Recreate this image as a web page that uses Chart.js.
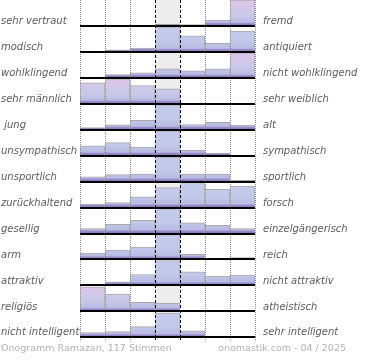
<!DOCTYPE html>
<html lang="de">
<head>
<meta charset="UTF-8">
<title>Onogramm Ramazan</title>
<style>
  html, body { margin: 0; padding: 0; background: #fff; }
</style>
</head>
<body>
<canvas id="myChart" width="370" height="360"></canvas>
<script src="https://cdn.jsdelivr.net/npm/chart.js@4.4.1/dist/chart.umd.min.js"></script>
<script>
// labels on both sides of each row
const leftLabels = ['sehr vertraut', 'modisch', 'wohlklingend', 'sehr männlich', ' jung',
  'unsympathisch', 'unsportlich', 'zurückhaltend', 'gesellig', 'arm', 'attraktiv',
  'religiös', 'nicht intelligent'];
const rightLabels = ['fremd', 'antiquiert', 'nicht wohlklingend', 'sehr weiblich', 'alt',
  'sympathisch', 'sportlich', 'forsch', 'einzelgängerisch', 'reich', 'nicht attraktiv',
  'atheistisch', 'sehr intelligent'];

// bar heights per row, in % of row height, 7 steps from left to right
const vertraut     = [0, 2, 0, 7, 5, 23, 100];
const modisch      = [0, 8, 15, 97, 62, 33, 80];
const wohlklingend = [0, 13, 19, 35, 27, 35, 96];
const maennlich    = [81, 96, 70, 58, 0, 0, 0];
const jung         = [8, 19, 36, 96, 20, 29, 18];
const unsympath    = [38, 50, 33, 96, 22, 10, 0];
const unsportlich  = [18, 27, 29, 96, 29, 29, 5];
const zurueck      = [13, 19, 41, 77, 96, 70, 83];
const gesellig     = [19, 35, 51, 96, 41, 32, 19];
const arm          = [25, 36, 48, 96, 20, 0, 7];
const attraktiv    = [0, 14, 42, 96, 52, 36, 40];
const religioes    = [95, 67, 35, 31, 0, 0, 0];
const intelligent  = [18, 22, 41, 93, 25, 5, 0];

const rows = [vertraut, modisch, wohlklingend, maennlich, jung, unsympath, unsportlich,
  zurueck, gesellig, arm, attraktiv, religioes, intelligent];

const footerLeft = 'Onogramm Ramazan, 117 Stimmen';
const footerRight = 'onomastik.com - 04 / 2025';

const ROW = 100;
const N = rows.length;
const base = r => (N - 1 - r) * ROW;
const rowOf = v => N - 1 - Math.floor(v / ROW);
const labelFont = { family: 'DejaVu Sans', size: 10, style: 'italic' };

// rows whose peak sits on an outer answer get the pink tint
function isPink(vals) {
  const m = vals.indexOf(Math.max(...vals));
  return m < 2 || m > 4;
}

function barFill(r) {
  return function (ctx) {
    const chart = ctx.chart;
    const ys = chart.scales.y;
    if (ctx.type !== 'data' || !ys || !ys.height) return '#c3c9e9';
    const top = ys.getPixelForValue(base(r) + ROW);
    const bot = ys.getPixelForValue(base(r));
    const h = bot - top;
    const g = chart.ctx.createLinearGradient(0, top, 0, bot);
    if (isPink(rows[r])) {
      g.addColorStop(0, '#dfc5e6');
      g.addColorStop(0.6, '#c8c9e9');
    } else {
      g.addColorStop(0, '#c4cbea');
      g.addColorStop(0.6, '#c2c8e9');
    }
    g.addColorStop(1 - 3.5 / h, '#b9bbe3');
    g.addColorStop(1 - 2.5 / h, '#9c8fcb');
    g.addColorStop(1, '#7f70b8');
    return g;
  };
}

const datasets = rows.map((vals, r) => ({
  label: leftLabels[r],
  data: vals.map((v, c) => v > 0 ? { x: c + 0.5, y: [base(r), base(r) + v] } : null).filter(Boolean),
  backgroundColor: barFill(r),
  borderColor: '#a9a9a9',
  borderWidth: { top: 1, right: 1, left: 0, bottom: 0 },
  borderSkipped: 'start',
  grouped: false,
  barPercentage: 1,
  categoryPercentage: 1
}));

// light grey band behind the neutral middle column + footer texts
const extras = {
  id: 'extras',
  beforeDatasetsDraw(chart) {
    const { ctx, chartArea, scales: { x } } = chart;
    const x0 = x.getPixelForValue(3), x1 = x.getPixelForValue(4);
    ctx.save();
    ctx.fillStyle = '#ededed';
    ctx.fillRect(x0, chartArea.top, x1 - x0, chartArea.bottom - chartArea.top);
    ctx.restore();
  },
  afterDraw(chart) {
    const ctx = chart.ctx;
    ctx.save();
    ctx.font = '9.5px "DejaVu Sans"';
    ctx.fillStyle = '#b2b2b2';
    ctx.textBaseline = 'middle';
    ctx.textAlign = 'left';
    ctx.fillText(footerLeft, 1, 349);
    ctx.textAlign = 'right';
    ctx.fillText(footerRight, chart.width - 24, 349);
    ctx.restore();
  }
};

function flatX(s) { s.height = 0; s.paddingLeft = 0; s.paddingRight = 0; }
function fixY(w) {
  return s => { s.width = w; s.paddingTop = 0; s.paddingBottom = 0; };
}

const ctx = document.getElementById('myChart').getContext('2d');
new Chart(ctx, {
  type: 'bar',
  data: { datasets: datasets },
  plugins: [extras],
  options: {
    responsive: false,
    animation: false,
    layout: { padding: { left: 1, right: 0, top: 0, bottom: 22.7 } },
    plugins: { legend: { display: false }, tooltip: { enabled: false } },
    scales: {
      x: {
        type: 'linear', min: 0, max: 7, offset: false,
        afterBuildTicks: s => { s.ticks = [0, 1, 2, 5, 6, 7].map(v => ({ value: v })); },
        afterFit: flatX,
        ticks: { display: false },
        grid: { offset: false, color: '#8a8a8a', tickColor: '#8a8a8a', drawTicks: true, tickLength: 4, tickBorderDash: [1, 1], z: 1 },
        border: { display: false, dash: [1, 1] }
      },
      x2: {
        type: 'linear', min: 0, max: 7, offset: false, position: 'bottom',
        afterBuildTicks: s => { s.ticks = [3, 4].map(v => ({ value: v })); },
        afterFit: flatX,
        ticks: { display: false },
        grid: { offset: false, color: '#000', tickColor: '#000', drawTicks: true, tickLength: 4, tickBorderDash: [3, 2], z: 1 },
        border: { display: false, dash: [3, 2] }
      },
      y: {
        type: 'linear', min: 0, max: N * ROW, position: 'left',
        afterBuildTicks: s => { s.ticks = leftLabels.map((t, r) => ({ value: base(r) + 17 })); },
        afterFit: fixY(79),
        ticks: { autoSkip: false, crossAlign: 'far', padding: 0, color: '#5c5c5c', font: labelFont,
          callback: v => leftLabels[rowOf(v)] },
        grid: { display: false, drawTicks: false },
        border: { display: false }
      },
      yR: {
        type: 'linear', min: 0, max: N * ROW, position: 'right',
        afterBuildTicks: s => { s.ticks = rightLabels.map((t, r) => ({ value: base(r) + 17 })); },
        afterFit: fixY(115),
        ticks: { autoSkip: false, padding: 8, color: '#5c5c5c', font: labelFont,
          callback: v => rightLabels[rowOf(v)] },
        grid: { display: false, drawTicks: false },
        border: { display: false }
      },
      yG: {
        type: 'linear', min: 0, max: N * ROW, position: 'left',
        afterBuildTicks: s => { s.ticks = rows.map((v, r) => ({ value: base(r) })); },
        afterFit: fixY(0),
        ticks: { display: false },
        grid: { color: '#000', lineWidth: 2, drawTicks: false, z: 1 },
        border: { display: false }
      }
    }
  }
});
</script>
</body>
</html>
